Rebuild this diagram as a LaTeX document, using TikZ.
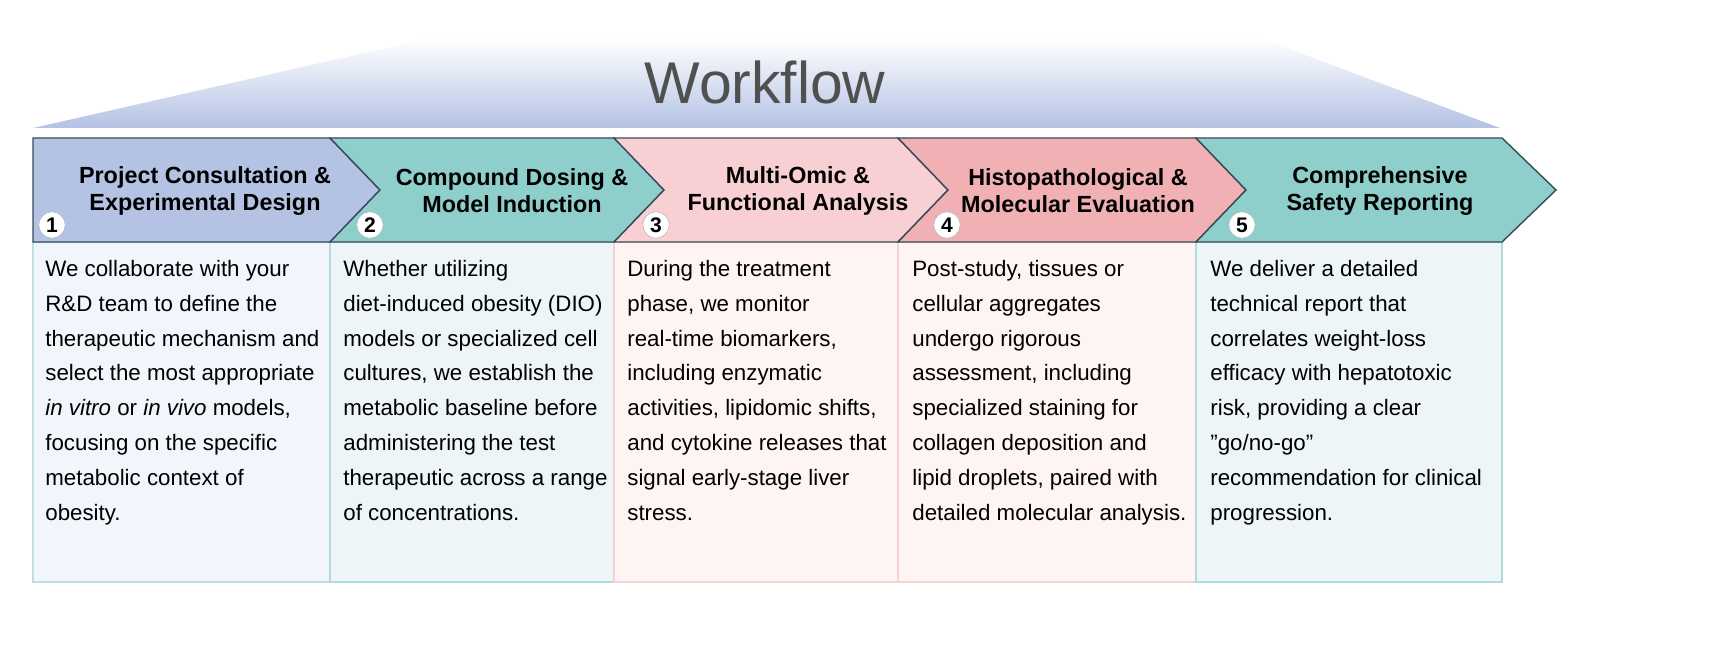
\documentclass[tikz,border=0pt]{standalone}
\usepackage{fontspec}
\setmainfont{Liberation Sans}
\usetikzlibrary{shadings}
\definecolor{hblue}{HTML}{B4C2E4}
\definecolor{hteal}{HTML}{8ECFCB}
\definecolor{hpinkl}{HTML}{F8D0D4}
\definecolor{hpink}{HTML}{F0B0B4}
\definecolor{bblue}{HTML}{F2F5FB}
\definecolor{bteal}{HTML}{EEF5F7}
\definecolor{bpink}{HTML}{FDF4F3}
\definecolor{edge}{HTML}{3A4A5A}
\tikzset{
 chev/.style={draw=edge,line width=0.8pt},
 body/.style={line width=0.8pt},
 htext/.style={font=\fontsize{13.3}{15.5}\selectfont\bfseries,align=center},
 btext/.style={font=\fontsize{12.7}{19.8}\selectfont,execute at begin node={\hyphenpenalty=10000\relax},align=flush left,text width=156pt,anchor=north west,inner sep=0pt},
 num/.style={circle,fill=white,draw=edge!40,line width=0.3pt,inner sep=0pt,minimum size=15pt,font=\fontsize{12}{12}\selectfont\bfseries}
}
\begin{document}
\begin{tikzpicture}[x=0.02cm,y=-0.02cm]
\useasboundingbox (0,0) rectangle (1714,662);
% title trapezoid
\shade[top color=white,bottom color=hblue] (430,38) -- (1260,38) -- (1500,128) -- (33,128) -- cycle;
\node (title) at (765,82) {\fontsize{33.5}{33.5}\selectfont\color[HTML]{505050}Workflow};
% bodies
\filldraw[body,fill=bblue,draw=hteal!60] (33,242) rectangle (330,582);
\filldraw[body,fill=bteal,draw=hteal!70] (330,242) rectangle (614,582);
\filldraw[body,fill=bpink,draw=hpinkl] (614,242) rectangle (898,582);
\filldraw[body,fill=bpink,draw=hpinkl] (898,242) rectangle (1196,582);
\filldraw[body,fill=bteal,draw=hteal!70] (1196,242) rectangle (1502,582);
% chevrons
\filldraw[chev,fill=hblue] (33,138) -- (330,138) -- (380,190) -- (330,242) -- (33,242) -- cycle;
\filldraw[chev,fill=hteal] (330,138) -- (614,138) -- (664,190) -- (614,242) -- (330,242) -- (380,190) -- cycle;
\filldraw[chev,fill=hpinkl] (614,138) -- (898,138) -- (948,190) -- (898,242) -- (614,242) -- (664,190) -- cycle;
\filldraw[chev,fill=hpink] (898,138) -- (1196,138) -- (1246,190) -- (1196,242) -- (898,242) -- (948,190) -- cycle;
\filldraw[chev,fill=hteal] (1196,138) -- (1502,138) -- (1556,190) -- (1502,242) -- (1196,242) -- (1246,190) -- cycle;
% header texts
\node[htext] (h1) at (205,191) {Project Consultation \&\\Experimental Design};
\node[htext] (h2) at (512,191) {Compound Dosing \&\\Model Induction};
\node[htext] (h3) at (798,191) {Multi-Omic \&\\Functional Analysis};
\node[htext] (h4) at (1078,191) {Histopathological \&\\Molecular Evaluation};
\node[htext] (h5) at (1380,191) {Comprehensive\\Safety Reporting};
% numbers
\node[num] (n1) at (52,225) {1};
\node[num] (n2) at (370,225) {2};
\node[num] (n3) at (656,225) {3};
\node[num] (n4) at (947,225) {4};
\node[num] (n5) at (1242,225) {5};
% body texts
\node[btext] (t1) at (45,260) {We collaborate with your R\&D team to define the therapeutic mechanism and select the most appropriate \textit{in vitro} or \textit{in vivo} models, focusing on the specific metabolic context of obesity.};
\node[btext] (t2) at (343,260) {Whether utilizing diet-induced obesity (DIO) models or specialized cell cultures, we establish the metabolic baseline before administering the test therapeutic across a range of concentrations.};
\node[btext] (t3) at (627,260) {During the treatment phase, we monitor real-time biomarkers, including enzymatic activities, lipidomic shifts, and cytokine releases that signal early-stage liver stress.};
\node[btext] (t4) at (912,260) {Post-study, tissues or cellular aggregates undergo rigorous assessment, including specialized staining for collagen deposition and lipid droplets, paired with detailed molecular analysis.};
\node[btext] (t5) at (1210,260) {We deliver a detailed technical report that correlates weight-loss efficacy with hepatotoxic risk, providing a clear \symbol{34}go/no-go\symbol{34} recommendation for clinical progression.};
\end{tikzpicture}
\end{document}
